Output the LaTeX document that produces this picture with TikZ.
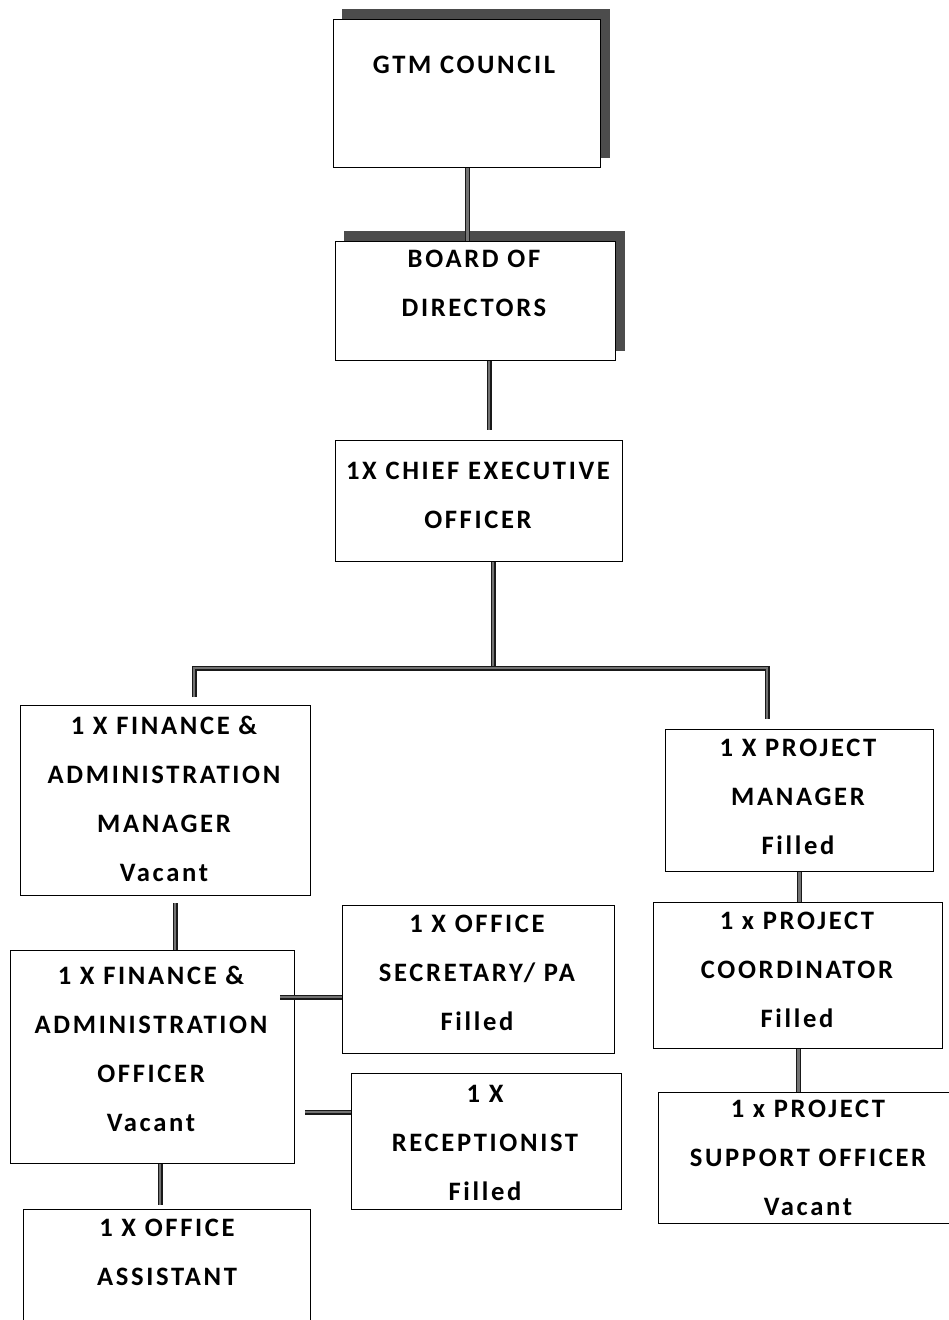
\documentclass[tikz,border=0pt]{standalone}
\usepackage{fontspec}
\newfontfamily\orgfont[LetterSpace=10]{Carlito}
\usetikzlibrary{positioning}

\tikzset{
  orgbox/.style={draw, line width=1.3pt, fill=white, inner sep=0pt, anchor=north west},
  orgtext/.style={align=center, inner sep=0pt, font=\orgfont\bfseries\fontsize{26.6}{49}\selectfont},
  link/.style={draw=black!90, line width=1.1pt, double=black!55, double distance=2.8pt},
  boxshadow/.style={fill=black!70}
}

\begin{document}
\begin{tikzpicture}[x=1pt, y=-1pt]
        \useasboundingbox (0,0) rectangle (949,1320);
        \clip (0,0) rectangle (949,1320);

        % top of the chart, boxes with shadow
        \node[orgbox, minimum width=267pt, minimum height=148pt] (gtm) at (333,19) {};
        \node[orgbox, minimum width=280pt, minimum height=119pt] (board) at (335,241) {};
        \fill[boxshadow] ([shift={(9,-10)}]gtm.south west) rectangle ([shift={(9,-10)}]gtm.north east);
        \fill[boxshadow] ([shift={(9,-10)}]board.south west) rectangle ([shift={(9,-10)}]board.north east);
        \node[orgbox, minimum width=267pt, minimum height=148pt] at (333,19) {};
        \node[orgbox, minimum width=280pt, minimum height=119pt] at (335,241) {};

        \node[orgbox, minimum width=287pt, minimum height=121pt] (ceo) at (335,440) {};

        % left branch
        \node[orgbox, minimum width=290pt, minimum height=190pt] (fam) at (20,705) {};
        \node[orgbox, minimum width=284pt, minimum height=213pt] (fao) at (10,950) {};
        \node[orgbox, minimum width=272pt, minimum height=148pt] (sec) at (342,905) {};
        \node[orgbox, minimum width=270pt, minimum height=136pt] (recep) at (351,1073) {};
        \node[orgbox, minimum width=287pt, minimum height=200pt] (asst) at (23,1209) {};

        % right branch
        \node[orgbox, minimum width=268pt, minimum height=142pt] (pm) at (665,729) {};
        \node[orgbox, minimum width=289pt, minimum height=146pt] (coord) at (653,902) {};
        \node[orgbox, minimum width=300pt, minimum height=131pt] (support) at (658,1092) {};

        % texts
        \node[orgtext] (gtm-t) at (464,65) {GTM COUNCIL};
        \node[orgtext] (board-t) at (474,283) {BOARD OF\\DIRECTORS};
        \node[orgtext] (ceo-t) at (478,495) {1X CHIEF EXECUTIVE\\OFFICER};
        \node[orgtext] (fam-t) at (164,799) {1 X FINANCE \&\\ADMINISTRATION\\MANAGER\\Vacant};
        \node[orgtext] (fao-t) at (151,1049) {1 X FINANCE \&\\ADMINISTRATION\\OFFICER\\Vacant};
        \node[orgtext] (sec-t) at (477,973) {1 X OFFICE\\SECRETARY/ PA\\Filled};
        \node[orgtext] (recep-t) at (485,1143) {1 X\\RECEPTIONIST\\Filled};
        \node[orgtext] (asst-t) at (167,1252) {1 X OFFICE\\ASSISTANT};
        \node[orgtext] (pm-t) at (798,797) {1 X PROJECT\\MANAGER\\Filled};
        \node[orgtext] (coord-t) at (797,970) {1 x PROJECT\\COORDINATOR\\Filled};
        \node[orgtext] (support-t) at (808,1158) {1 x PROJECT\\SUPPORT OFFICER\\Vacant};

        % connectors
        \coordinate (ceo-in) at (489,430);
        \coordinate (split) at (493,668);
        \coordinate (fam-in) at (194,697);
        \coordinate (pm-in) at (767,719);
        \coordinate (fao-in) at (175,903);
        \coordinate (sec-in) at (280,997);
        \coordinate (rec-in) at (305,1112);
        \coordinate (asst-in) at (160,1205);

        \draw[link] (gtm.south) -- (gtm.south |- board.north);
        \draw[link] (board.south -| ceo-in) -- (ceo-in);
        \draw[link] (ceo.south -| split) -- (split);
        \draw[link] (fam-in) |- (split) -| (pm-in);
        \draw[link] (fao-in) -- (fao-in |- fao.north);
        \draw[link] (sec-in) -- (sec-in -| sec.west);
        \draw[link] (rec-in) -- (rec-in -| recep.west);
        \draw[link] (fao.south -| asst-in) -- (asst-in);
        \draw[link] (pm.south) -- (pm.south |- coord.north);
        \draw[link] (coord.south) -- (coord.south |- support.north);
    \end{tikzpicture}
\end{document}
